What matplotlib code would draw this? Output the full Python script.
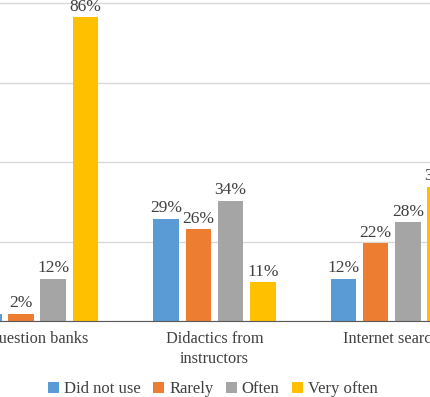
import matplotlib
matplotlib.use('Agg')
import matplotlib.pyplot as plt
import numpy as np

# Data (percent of respondents)
categories = ['Question banks', 'Didactics from\ninstructors', 'Internet search']
series = ['Did not use', 'Rarely', 'Often', 'Very often']
did_not_use = [2, 29, 12]
rarely = [2, 26, 22]
often = [12, 34, 28]
very_often = [86, 11, 38]

colors = ['#5B9BD5', '#ED7D31', '#A5A5A5', '#FFC000']
values = [did_not_use, rarely, often, very_often]

plt.rcParams['font.family'] = ['Liberation Serif', 'DejaVu Serif']

fig = plt.figure(figsize=(4.3, 3.97), dpi=100)
# axes run past the figure edges: the reference is a crop of a wider chart
ax = fig.add_axes([0, 76 / 397, 1, 321 / 397])

x = np.arange(len(categories))
pitch = 0.1816
width = 0.1444
for i, (name, vals) in enumerate(zip(series, values)):
    offset = (i - 1.5) * pitch
    bars = ax.bar(x + offset, vals, width, label=name, color=colors[i], zorder=3)
    for bar, v in zip(bars, vals):
        ax.text(bar.get_x() + bar.get_width() / 2, v + 0.7, f'{v}%',
                ha='center', va='bottom', fontsize=12.5, color='#404040')

ax.set_xlim(-0.2098, 2.2155)
ax.set_ylim(0, 90.9)
ax.set_yticks([0, 22.5, 45, 67.5, 90])
ax.yaxis.grid(True, color='#D9D9D9', linewidth=1, zorder=0)
ax.tick_params(axis='y', length=0, labelleft=False)
ax.tick_params(axis='x', length=0, labelsize=11.8, colors='#404040', pad=7)
ax.set_xticks(x)
ax.set_xticklabels(categories, linespacing=1.35)
for side in ['top', 'right', 'left']:
    ax.spines[side].set_visible(False)
ax.spines['bottom'].set_color('#595959')
ax.spines['bottom'].set_zorder(4)

handles, labels = ax.get_legend_handles_labels()
fig.legend(handles, labels, loc='center', bbox_to_anchor=(213 / 430, 1 - 389 / 397),
           ncol=4, frameon=False, fontsize=12, handlelength=0.65, handleheight=0.65,
           handletextpad=0.3, columnspacing=0.75, labelcolor='#404040')

fig.savefig('out.png', dpi=100)
